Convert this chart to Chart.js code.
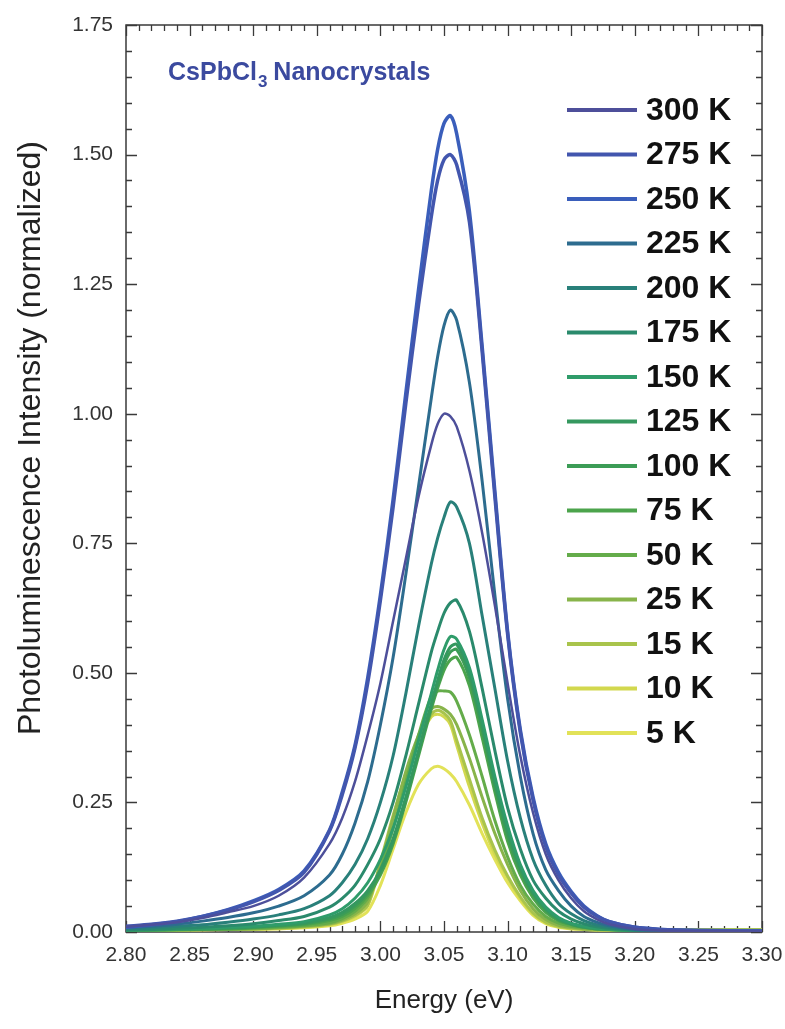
<!DOCTYPE html>
<html>
<head>
<meta charset="utf-8">
<script src="https://cdn.jsdelivr.net/npm/chart.js@4.4.1/dist/chart.umd.min.js"></script>
<style>
  html, body { margin: 0; padding: 0; background: #fff; }
  #wrap { width: 785px; height: 1029px; }
</style>
</head>
<body>
<div id="wrap"><canvas id="plspec"></canvas></div>
<script>
// energy grid (eV), shared by every spectrum
const energy = [2.80, 2.82, 2.84, 2.86, 2.88, 2.90, 2.92, 2.94, 2.96, 2.97, 2.98, 2.99,
  3.00, 3.01, 3.02, 3.03, 3.04, 3.045, 3.05, 3.055, 3.06, 3.07, 3.08, 3.09, 3.10,
  3.11, 3.12, 3.13, 3.14, 3.15, 3.16, 3.17, 3.18, 3.20, 3.22, 3.25, 3.30];

const temps = ['300 K', '275 K', '250 K', '225 K', '200 K', '175 K', '150 K', '125 K',
  '100 K', '75 K', '50 K', '25 K', '15 K', '10 K', '5 K'];

const lineColors = ['#4d4f9a', '#4256ae', '#3a5ebb', '#2d6c8f', '#29807a', '#2a8a6c',
  '#2f9c6a', '#35985f', '#3c9c56', '#4ca44c', '#64ac4a', '#88b44a', '#a9c44c',
  '#d2d84e', '#e2e258'];

// PL intensity (normalized)
const pl300 = [0.010, 0.014, 0.019, 0.027, 0.038, 0.050, 0.070, 0.105, 0.170, 0.220, 0.290, 0.380, 0.480, 0.600, 0.720, 0.840, 0.940, 0.980, 1.000, 0.995, 0.975, 0.890, 0.770, 0.630, 0.480, 0.340, 0.230, 0.150, 0.100, 0.065, 0.040, 0.025, 0.015, 0.006, 0.003, 0.002, 0.001];
const pl275 = [0.011, 0.015, 0.021, 0.030, 0.042, 0.058, 0.080, 0.115, 0.195, 0.265, 0.355, 0.480, 0.640, 0.820, 1.020, 1.210, 1.380, 1.450, 1.490, 1.500, 1.480, 1.370, 1.120, 0.840, 0.575, 0.385, 0.255, 0.165, 0.110, 0.075, 0.048, 0.031, 0.020, 0.009, 0.005, 0.003, 0.002];
const pl250 = [0.009, 0.014, 0.020, 0.030, 0.043, 0.060, 0.082, 0.118, 0.197, 0.270, 0.360, 0.490, 0.650, 0.835, 1.040, 1.240, 1.430, 1.510, 1.560, 1.575, 1.540, 1.390, 1.130, 0.850, 0.580, 0.390, 0.260, 0.170, 0.115, 0.078, 0.050, 0.032, 0.020, 0.009, 0.005, 0.003, 0.002];
const pl225 = [0.008, 0.011, 0.015, 0.021, 0.028, 0.037, 0.050, 0.070, 0.110, 0.150, 0.210, 0.290, 0.400, 0.530, 0.690, 0.860, 1.030, 1.110, 1.170, 1.200, 1.180, 1.060, 0.870, 0.650, 0.450, 0.300, 0.190, 0.120, 0.080, 0.050, 0.030, 0.019, 0.012, 0.005, 0.003, 0.002, 0.001];
const pl200 = [0.006, 0.008, 0.011, 0.014, 0.019, 0.025, 0.033, 0.045, 0.070, 0.095, 0.130, 0.180, 0.250, 0.340, 0.460, 0.590, 0.710, 0.760, 0.800, 0.830, 0.820, 0.750, 0.610, 0.470, 0.330, 0.220, 0.140, 0.090, 0.055, 0.035, 0.022, 0.014, 0.009, 0.004, 0.002, 0.001, 0.001];
const pl175 = [0.004, 0.005, 0.007, 0.009, 0.012, 0.016, 0.022, 0.030, 0.048, 0.065, 0.090, 0.130, 0.180, 0.250, 0.340, 0.440, 0.540, 0.580, 0.615, 0.635, 0.640, 0.580, 0.470, 0.350, 0.240, 0.160, 0.100, 0.065, 0.040, 0.025, 0.016, 0.010, 0.007, 0.003, 0.002, 0.001, 0.001];
const pl150 = [0.004, 0.005, 0.006, 0.007, 0.009, 0.011, 0.015, 0.020, 0.033, 0.045, 0.065, 0.095, 0.140, 0.200, 0.280, 0.370, 0.460, 0.505, 0.545, 0.570, 0.565, 0.510, 0.410, 0.300, 0.205, 0.130, 0.080, 0.048, 0.028, 0.017, 0.011, 0.007, 0.005, 0.003, 0.002, 0.002, 0.002];
const pl125 = [0.004, 0.004, 0.005, 0.006, 0.008, 0.010, 0.013, 0.018, 0.028, 0.038, 0.055, 0.080, 0.120, 0.180, 0.260, 0.350, 0.440, 0.485, 0.525, 0.550, 0.555, 0.500, 0.400, 0.290, 0.195, 0.125, 0.076, 0.045, 0.026, 0.016, 0.010, 0.007, 0.005, 0.003, 0.002, 0.002, 0.002];
const pl100 = [0.004, 0.004, 0.005, 0.006, 0.007, 0.009, 0.012, 0.016, 0.025, 0.034, 0.050, 0.075, 0.115, 0.175, 0.255, 0.345, 0.435, 0.475, 0.515, 0.540, 0.545, 0.490, 0.390, 0.280, 0.185, 0.118, 0.072, 0.042, 0.024, 0.015, 0.009, 0.006, 0.005, 0.003, 0.002, 0.002, 0.002];
const pl75 = [0.004, 0.004, 0.005, 0.005, 0.006, 0.008, 0.011, 0.014, 0.022, 0.030, 0.045, 0.070, 0.110, 0.170, 0.250, 0.340, 0.430, 0.470, 0.505, 0.525, 0.530, 0.475, 0.375, 0.270, 0.175, 0.110, 0.066, 0.038, 0.022, 0.014, 0.009, 0.006, 0.005, 0.003, 0.002, 0.002, 0.002];
const pl50 = [0.004, 0.004, 0.004, 0.005, 0.006, 0.007, 0.009, 0.012, 0.018, 0.026, 0.040, 0.065, 0.120, 0.200, 0.290, 0.380, 0.455, 0.465, 0.465, 0.463, 0.445, 0.380, 0.300, 0.215, 0.145, 0.090, 0.054, 0.030, 0.017, 0.011, 0.008, 0.006, 0.005, 0.004, 0.003, 0.003, 0.003];
const pl25 = [0.004, 0.004, 0.004, 0.005, 0.005, 0.006, 0.008, 0.011, 0.016, 0.023, 0.035, 0.058, 0.130, 0.220, 0.310, 0.380, 0.430, 0.435, 0.430, 0.420, 0.400, 0.335, 0.260, 0.190, 0.130, 0.080, 0.045, 0.024, 0.013, 0.009, 0.006, 0.005, 0.004, 0.004, 0.004, 0.004, 0.004];
const pl15 = [0.004, 0.004, 0.004, 0.005, 0.005, 0.006, 0.007, 0.010, 0.015, 0.021, 0.032, 0.052, 0.135, 0.225, 0.305, 0.375, 0.420, 0.428, 0.422, 0.408, 0.370, 0.295, 0.220, 0.158, 0.108, 0.068, 0.037, 0.019, 0.011, 0.007, 0.005, 0.004, 0.004, 0.004, 0.004, 0.004, 0.004];
const pl10 = [0.004, 0.004, 0.004, 0.005, 0.005, 0.006, 0.007, 0.009, 0.014, 0.020, 0.030, 0.050, 0.130, 0.220, 0.300, 0.370, 0.415, 0.420, 0.415, 0.400, 0.360, 0.280, 0.210, 0.150, 0.105, 0.065, 0.035, 0.018, 0.010, 0.007, 0.005, 0.004, 0.004, 0.004, 0.004, 0.004, 0.004];
const pl5 = [0.004, 0.004, 0.004, 0.004, 0.005, 0.005, 0.006, 0.008, 0.012, 0.017, 0.025, 0.040, 0.090, 0.160, 0.230, 0.285, 0.315, 0.320, 0.315, 0.305, 0.290, 0.245, 0.190, 0.140, 0.095, 0.060, 0.032, 0.016, 0.009, 0.006, 0.005, 0.004, 0.004, 0.004, 0.004, 0.004, 0.004];

const spectra = [pl300, pl275, pl250, pl225, pl200, pl175, pl150, pl125, pl100, pl75, pl50, pl25, pl15, pl10, pl5];
const lineWidths = [2.5, 3.5, 3.5, 3, 3, 3, 3, 3, 3, 3, 3, 3, 3, 3, 3];

const FONT = '"Liberation Sans", Arial, Helvetica, sans-serif';

// box + inward ticks on all four sides
const frameTicks = {
  id: 'frameTicks',
  beforeDatasetsDraw(chart) {
    const { ctx, chartArea: a, scales: { x, y } } = chart;
    ctx.save();
    ctx.strokeStyle = '#3a3a3a';
    ctx.lineWidth = 1.5;
    ctx.strokeRect(a.left, a.top, a.right - a.left, a.bottom - a.top);
    ctx.lineWidth = 1.3;
    ctx.beginPath();
    for (let i = 0; i <= 50; i++) {
      const px = Math.round(x.getPixelForValue(2.80 + i * 0.01)) + 0.5;
      const len = i % 5 === 0 ? 11 : 6;
      ctx.moveTo(px, a.bottom); ctx.lineTo(px, a.bottom - len);
      ctx.moveTo(px, a.top); ctx.lineTo(px, a.top + len);
    }
    for (let i = 0; i <= 35; i++) {
      const py = Math.round(y.getPixelForValue(i * 0.05)) + 0.5;
      const len = i % 5 === 0 ? 11 : 6;
      ctx.moveTo(a.left, py); ctx.lineTo(a.left + len, py);
      ctx.moveTo(a.right, py); ctx.lineTo(a.right - len, py);
    }
    ctx.stroke();
    ctx.restore();
  }
};

// title, y-axis title and the temperature key
const annotate = {
  id: 'annotate',
  afterDraw(chart) {
    const ctx = chart.ctx;
    ctx.save();
    ctx.fillStyle = '#3b4a9f';
    ctx.textBaseline = 'alphabetic';
    ctx.textAlign = 'left';
    let tx = 168;
    const ty = 80;
    ctx.font = 'bold 25px ' + FONT;
    ctx.fillText('CsPbCl', tx, ty);
    tx += ctx.measureText('CsPbCl').width + 1;
    ctx.font = 'bold 17px ' + FONT;
    ctx.fillText('3', tx, ty + 7);
    tx += ctx.measureText('3').width + 6;
    ctx.font = 'bold 25px ' + FONT;
    ctx.fillText('Nanocrystals', tx, ty);

    // y-axis title
    ctx.save();
    ctx.translate(31, 438);
    ctx.rotate(-Math.PI / 2);
    ctx.textAlign = 'center';
    ctx.textBaseline = 'middle';
    ctx.fillStyle = '#222';
    ctx.font = '32px ' + FONT;
    ctx.fillText('Photoluminescence Intensity (normalized)', 0, 0);
    ctx.restore();

    ctx.textBaseline = 'middle';
    ctx.textAlign = 'left';
    chart.data.datasets.forEach((ds, i) => {
      const ly = 110 + i * 44.5;
      ctx.strokeStyle = ds.borderColor;
      ctx.lineWidth = 4;
      ctx.beginPath();
      ctx.moveTo(567, ly); ctx.lineTo(637, ly);
      ctx.stroke();
      ctx.fillStyle = '#111';
      ctx.font = 'bold 32px ' + FONT;
      ctx.fillText(ds.label, 646, ly + 1);
    });
    ctx.restore();
  }
};

function drawChart() {
  const ctx = document.getElementById('plspec').getContext('2d');
  window.plspec = new Chart(ctx, {
    type: 'line',
    data: {
      datasets: spectra.map((s, i) => ({
        label: temps[i],
        data: s.map((v, j) => ({ x: energy[j], y: v })),
        borderColor: lineColors[i],
        borderWidth: lineWidths[i],
        pointRadius: 0,
        tension: 0.3,
        fill: false,
      }))
    },
    options: {
      responsive: true,
      maintainAspectRatio: false,
      animation: false,
      layout: { padding: { top: 25, right: 23, left: 0, bottom: 0 } },
      plugins: {
        legend: { display: false },
        tooltip: { enabled: false }
      },
      scales: {
        x: {
          type: 'linear',
          min: 2.80,
          max: 3.30,
          grid: { display: false, drawTicks: false },
          border: { display: false },
          ticks: {
            stepSize: 0.05,
            padding: 11,
            color: '#333',
            font: { family: FONT, size: 21 },
            maxRotation: 0,
            callback: v => v.toFixed(2)
          },
          title: {
            display: true,
            text: 'Energy (eV)',
            color: '#222',
            font: { family: FONT, size: 26 },
            padding: { top: 0, bottom: 13 }
          },
          afterFit: s => { s.height = 97; s.paddingLeft = 0; s.paddingRight = 0; }
        },
        y: {
          min: 0,
          max: 1.75,
          grid: { display: false, drawTicks: false },
          border: { display: false },
          ticks: {
            stepSize: 0.25,
            padding: 13,
            color: '#333',
            font: { family: FONT, size: 21 },
            callback: v => v.toFixed(2)
          },
          title: { display: false },
          afterFit: s => { s.width = 126; s.paddingTop = 0; s.paddingBottom = 0; }
        }
      }
    },
    plugins: [frameTicks, annotate]
  });
}

drawChart();
</script>
</body>
</html>
